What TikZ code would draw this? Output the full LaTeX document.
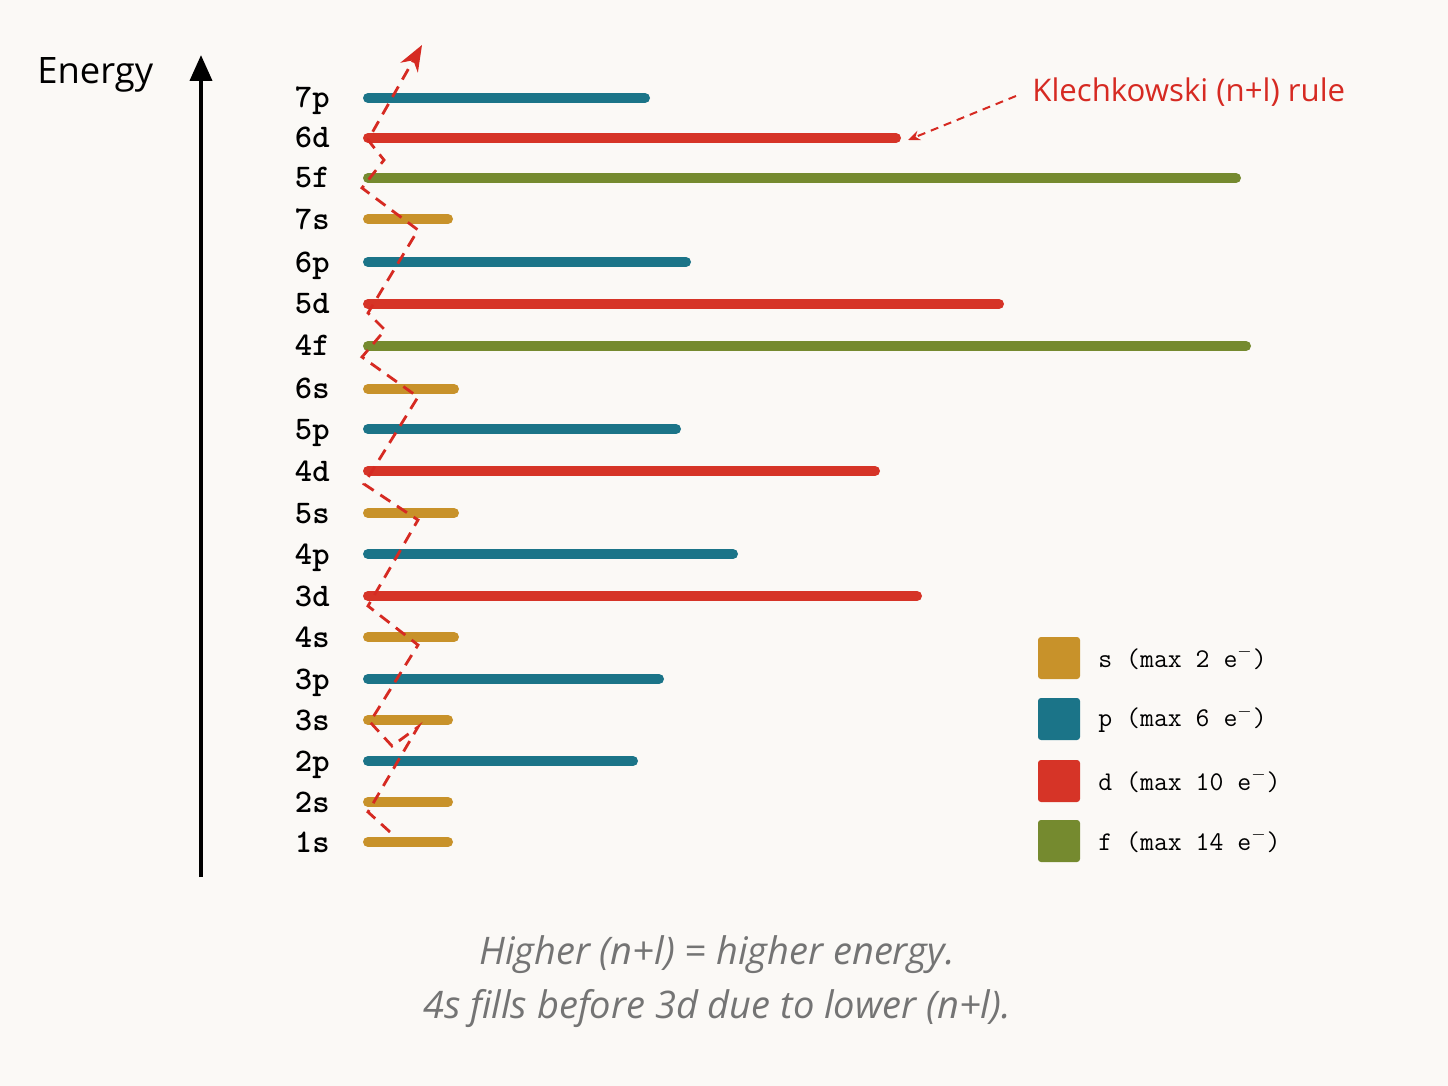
\documentclass[tikz,border=0pt]{standalone}
\usepackage{fontspec}
\newfontfamily\sansfont{Open Sans}
\usetikzlibrary{arrows.meta}

\definecolor{bgpaper}{HTML}{FBF9F6}
\definecolor{orbS}{HTML}{C8922A}
\definecolor{orbP}{HTML}{1B7488}
\definecolor{orbD}{HTML}{D63427}
\definecolor{orbF}{HTML}{758A2F}
\definecolor{ruleRed}{HTML}{D62A22}
\definecolor{noteGray}{HTML}{747474}

\begin{document}
\begin{tikzpicture}[x=0.5pt, y=-0.5pt,
    orbital/.style={line width=5pt, line cap=round},
    orblabel/.style={anchor=base east, inner sep=0pt, font=\fontsize{16.5}{16.5}\selectfont\ttfamily\bfseries},
    keybox/.style={minimum size=21pt, inner sep=0pt, rounded corners=1.5pt},
    keytext/.style={anchor=west, inner sep=0pt, font=\fontsize{13.5}{13.5}\selectfont\ttfamily},
    zigzag/.style={ruleRed, line width=1.4pt, dash pattern=on 6pt off 4pt}]

    % Paper
    \fill[bgpaper] (0,0) rectangle (1448,1086);
    \useasboundingbox (0,0) rectangle (1448,1086);

    % Energy axis
    \node[anchor=west, inner sep=0pt, font=\sansfont\fontsize{18.2}{18.2}\selectfont] (energy) at (37,75) {Energy};
    \coordinate (axisfoot) at (201,877);
    \coordinate (axishead) at (201,55);
    \draw[line width=2pt, -{Triangle[length=13pt, width=11pt]}] (axisfoot) -- (axishead);

    % Subshells, lowest first: name/height/right end/colour
    \foreach \sub/\y/\xe/\col in {1s/842/448/orbS, 2s/802/448/orbS, 2p/761/633/orbP,
        3s/720/448/orbS, 3p/679/659/orbP, 4s/637/454/orbS, 3d/596/917/orbD,
        4p/554/733/orbP, 5s/513/454/orbS, 4d/471/875/orbD, 5p/429/676/orbP,
        6s/389/454/orbS, 4f/346/1246/orbF, 5d/304/999/orbD, 6p/262/686/orbP,
        7s/219/448/orbS, 5f/178/1236/orbF, 6d/138/896/orbD, 7p/98/645/orbP}{
      \node[orblabel] (lbl\sub) at (330,\y+10) {\sub};
      \draw[orbital, \col] (368,\y) -- (\xe,\y);
    }

    % Filling order
    \draw[zigzag, -{Stealth[length=13pt, width=10pt]}] (390,832) -- (368,812) -- (418,727)
      -- (392,746) -- (370,722) -- (418,645) -- (368,606) -- (418,520) -- (364,484)
      -- (418,397) -- (362,357) -- (385,330) -- (368,313) -- (418,230) -- (362,188)
      -- (384,160) -- (368,140) -- (422,45);

    % Rule label
    \node[anchor=west, inner sep=0pt, text=ruleRed, font=\sansfont\fontsize{15.6}{15.6}\selectfont] (rule) at (1032,92) {Klechkowski (n+l) rule};
    \coordinate (ruletip) at (908,140);
    \draw[ruleRed, line width=1pt, dash pattern=on 4pt off 3pt, -{Stealth[length=6pt, width=5pt]}] ([xshift=-8pt, yshift=-2pt]rule.west) -- (ruletip);

    % Legend
    \foreach \k/\y/\col/\cap in {s/658/orbS/2, p/719/orbP/6, d/781/orbD/10, f/841/orbF/14}{
      \node[keybox, fill=\col] (key\k) at (1059,\y) {};
      \node[keytext] (keylbl\k) at (1098,\y) {\k{} (max \cap{} e$^{-}$)};
    }

    % Notes
    \node[align=center, text=noteGray, font=\sansfont\itshape\fontsize{19}{27}\selectfont] (note) at (717,982)
      {Higher (n+l) = higher energy.\\4s fills before 3d due to lower (n+l).};
\end{tikzpicture}
\end{document}
